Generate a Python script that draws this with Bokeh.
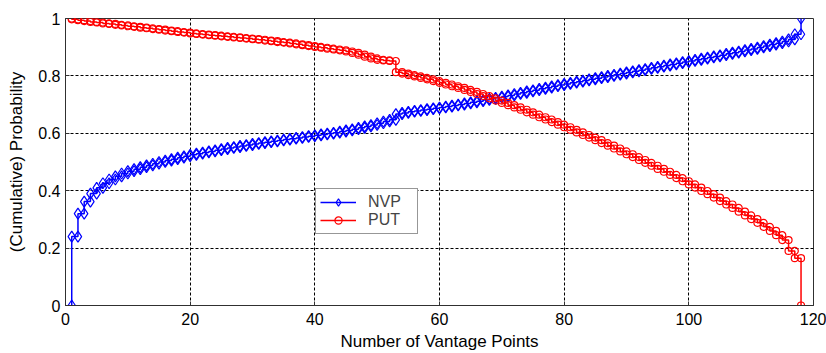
from bokeh.plotting import figure
from bokeh.models import Range1d, Legend, LegendItem, FixedTicker
from bokeh.embed import file_html
from bokeh.resources import INLINE

# Cumulative probability after k vantage points, k = 1..118
nvp = [
    0.240, 0.320, 0.362, 0.390, 0.410, 0.426, 0.439, 0.450, 0.460, 0.468,
    0.475, 0.482, 0.488, 0.494, 0.500, 0.505, 0.510, 0.515, 0.520, 0.525,
    0.529, 0.533, 0.537, 0.541, 0.545, 0.549, 0.552, 0.556, 0.559, 0.563,
    0.566, 0.569, 0.572, 0.575, 0.578, 0.581, 0.584, 0.587, 0.590, 0.593,
    0.596, 0.599, 0.602, 0.606, 0.610, 0.614, 0.619, 0.624, 0.629, 0.635,
    0.641, 0.647, 0.667, 0.671, 0.675, 0.678, 0.681, 0.684, 0.687, 0.690,
    0.693, 0.697, 0.700, 0.704, 0.708, 0.712, 0.716, 0.720, 0.724, 0.728,
    0.732, 0.737, 0.741, 0.746, 0.750, 0.755, 0.759, 0.764, 0.768, 0.772,
    0.776, 0.780, 0.784, 0.788, 0.792, 0.796, 0.800, 0.804, 0.808, 0.812,
    0.816, 0.820, 0.824, 0.828, 0.832, 0.836, 0.840, 0.844, 0.848, 0.852,
    0.856, 0.860, 0.864, 0.868, 0.872, 0.877, 0.881, 0.885, 0.890, 0.894,
    0.899, 0.904, 0.909, 0.914, 0.920, 0.927, 0.945, 1.000,
]
put = [
    0.997, 0.994, 0.991, 0.988, 0.986, 0.983, 0.981, 0.978, 0.976, 0.973,
    0.971, 0.968, 0.966, 0.963, 0.961, 0.958, 0.956, 0.953, 0.951, 0.948,
    0.946, 0.944, 0.942, 0.940, 0.938, 0.936, 0.934, 0.932, 0.930, 0.928,
    0.926, 0.923, 0.921, 0.918, 0.916, 0.913, 0.910, 0.907, 0.904, 0.901,
    0.898, 0.895, 0.892, 0.889, 0.885, 0.880, 0.874, 0.867, 0.861, 0.856,
    0.854, 0.852, 0.813, 0.808, 0.803, 0.798, 0.793, 0.788, 0.782, 0.776,
    0.770, 0.764, 0.758, 0.751, 0.744, 0.737, 0.730, 0.722, 0.714, 0.706,
    0.698, 0.690, 0.682, 0.673, 0.665, 0.656, 0.648, 0.639, 0.630, 0.621,
    0.612, 0.603, 0.594, 0.585, 0.576, 0.566, 0.557, 0.547, 0.537, 0.527,
    0.517, 0.507, 0.497, 0.487, 0.476, 0.466, 0.455, 0.444, 0.433, 0.422,
    0.411, 0.399, 0.388, 0.376, 0.364, 0.352, 0.340, 0.327, 0.314, 0.301,
    0.288, 0.274, 0.260, 0.245, 0.228, 0.190, 0.165, 0.000,
]
nvp_start = 0.0
put_start = 1.0
x_ticks = [0, 20, 40, 60, 80, 100, 120]
y_ticks = [0, 0.2, 0.4, 0.6, 0.8, 1.0]
y_tick_labels = {0: "0", 0.2: "0.2", 0.4: "0.4", 0.6: "0.6", 0.8: "0.8", 1.0: "1"}


def stairs(values, start):
    """Turn a cumulative series into step-plot vertices (vertical rise at each k)."""
    xs, ys = [], []
    prev = start
    for k, v in enumerate(values, start=1):
        xs += [k, k]
        ys += [prev, v]
        prev = v
    return xs, ys


FONT = "Liberation Sans"
EDGE = "#303030"

p = figure(
    width=826, height=353, output_backend="svg", toolbar_location=None,
    x_range=Range1d(0, 120), y_range=Range1d(0, 1),
    min_border_left=65, min_border_right=13, min_border_top=18, min_border_bottom=48,
)
p.background_fill_color = "white"
p.border_fill_color = "white"
p.outline_line_color = EDGE
p.outline_line_width = 1

for ax in (p.xaxis[0], p.yaxis[0]):
    ax.axis_line_color = EDGE
    ax.major_tick_in = 4
    ax.major_tick_out = 0
    ax.minor_tick_line_color = None
    ax.major_tick_line_color = EDGE
    ax.major_label_text_font = FONT
    ax.major_label_text_font_size = "16px"
    ax.major_label_text_color = "black"
    ax.axis_label_text_font = FONT
    ax.axis_label_text_font_size = "17px"
    ax.axis_label_text_font_style = "normal"
    ax.axis_label_text_color = "black"

p.xaxis.ticker = FixedTicker(ticks=x_ticks)
p.yaxis.ticker = FixedTicker(ticks=y_ticks)
p.yaxis.major_label_overrides = y_tick_labels
p.xaxis.axis_label = "Number of Vantage Points"
p.yaxis.axis_label = "(Cumulative) Probability"
p.xaxis.major_label_standoff = 7
p.yaxis.major_label_standoff = 5
p.xaxis.axis_label_standoff = 4
p.yaxis.axis_label_standoff = 9

for g in (p.xgrid[0], p.ygrid[0]):
    g.grid_line_color = "black"
    g.grid_line_dash = "3 2"
    g.grid_line_width = 1
p.xgrid.ticker = FixedTicker(ticks=x_ticks)
p.ygrid.ticker = FixedTicker(ticks=y_ticks)

nx, ny = stairs(nvp, nvp_start)
px, py = stairs(put, put_start)

nvp_line = p.line(nx, ny, line_color="blue", line_width=1.5)
nvp_pts = p.scatter(nx, ny, marker="diamond", size=11, fill_color=None,
                    line_color="blue", line_width=1.2)
put_line = p.line(px, py, line_color="red", line_width=1.5)
put_pts = p.scatter(px, py, marker="circle", size=7, fill_color=None,
                    line_color="red", line_width=1.2)

legend = Legend(
    items=[LegendItem(label="NVP", renderers=[nvp_line, nvp_pts]),
           LegendItem(label="PUT", renderers=[put_line, put_pts])],
    location=(250, 71),
    label_text_font=FONT, label_text_font_size="16px",
    border_line_color=EDGE, background_fill_color="white",
    background_fill_alpha=1.0, glyph_width=36, glyph_height=18,
    label_height=18, label_width=45, label_standoff=12,
    spacing=0, padding=4, margin=0,
)
p.add_layout(legend, "center")

open("out.html", "w").write(file_html(p, INLINE))
